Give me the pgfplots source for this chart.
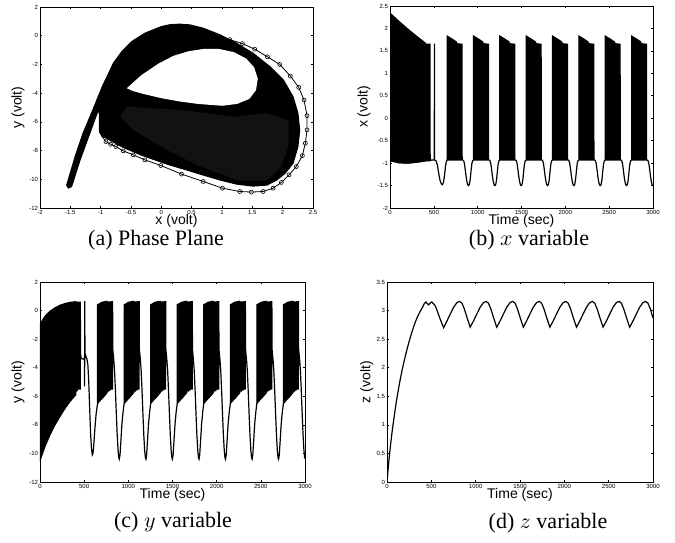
\documentclass[border=0pt]{standalone}
\usepackage{fontspec}
\setmainfont{Liberation Serif}
\newfontfamily\helv{Liberation Sans}
\usepackage{pgfplots}
\pgfplotsset{compat=1.18}

\pgfplotsset{
  mat/.style={
    scale only axis, anchor=south west,
    axis line style={line width=0.4pt},
    tick align=inside, major tick length=1.2pt,
    tick style={line width=0.3pt, black},
    tick label style={font=\fontsize{3}{3.5}\selectfont\helv, inner sep=0.8pt},
    /pgf/number format/assume math mode=true,
    /pgf/number format/1000 sep={},
    scaled ticks=false,
    unbounded coords=jump,
  },
  tser/.style={
    mat, xmin=0, xmax=3000, xtick={0,500,...,3000},
    xlabel={Time (sec)},
  },
  xl/.style={every axis x label/.style={at={(axis description cs:0.5,#1)}, anchor=center,
    inner sep=0pt, font=\fontsize{7}{8}\selectfont\helv}},
  yl/.style={every axis y label/.style={at={(axis description cs:#1,0.5)}, anchor=center,
    rotate=90, font=\fontsize{7}{8}\selectfont\helv}},
  sig/.style={black, mark=none, line width=0.6pt},
}

\begin{document}
\begin{tikzpicture}
\useasboundingbox (0,0) rectangle (337.5pt,271pt);

% (a) phase plane
\begin{axis}[mat, at={(20pt,167pt)}, width=136.5pt, height=100.5pt,
  xmin=-2, xmax=2.5, ymin=-12, ymax=2,
  xtick={-2,-1.5,...,2.5}, ytick={-12,-10,...,2},
  xlabel={x (volt)}, ylabel={y (volt)}, xl=-0.062, yl=-0.081,
]
\addplot[fill=black, draw=black, line width=0.6pt] coordinates {
(-1.56,-10.42) (-1.53,-10.6) (-1.48,-10.5) (-1.34,-8.65) (-1.20,-7.03) (-1.09,-5.75)
(-1.04,-5.2) (-1.02,-5.4) (-1.02,-6.7) (-0.97,-7.0) (-0.9,-7.15) (-0.65,-7.73)
(-0.33,-8.31) (0.0,-8.8) (0.14,-9.0) (0.42,-9.35) (0.69,-9.7) (0.97,-10.05)
(1.24,-10.33) (1.51,-10.47) (1.74,-10.4) (1.9,-10.05) (2.04,-9.58) (2.17,-8.88)
(2.25,-7.73) (2.28,-6.57) (2.25,-5.4) (2.17,-4.25) (2.01,-3.08) (1.79,-2.16)
(1.51,-1.22) (1.24,-0.53) (0.97,0.05) (0.69,0.52) (0.47,0.75) (0.3,0.8)
(0.14,0.76) (0.0,0.63) (-0.27,0.17) (-0.49,-0.42) (-0.65,-1.11) (-0.79,-1.92)
(-0.88,-2.74) (-0.96,-3.43) (-1.04,-4.25) (-1.15,-5.4) (-1.29,-6.8) (-1.42,-8.42)
(-1.56,-10.42)
};
\addplot[fill=black!93, draw=none] coordinates {
(-0.57,-4.94) (0.36,-5.18) (1.18,-5.64) (1.73,-5.4) (2.1,-5.9) (2.1,-7.7)
(1.95,-9.3) (1.73,-10.1) (1.29,-10.1) (0.63,-9.1) (0.09,-7.95) (-0.46,-6.56)
(-0.68,-5.64)
};
\addplot[fill=white, draw=none] coordinates {
(-0.57,-3.66) (-0.33,-2.75) (-0.05,-1.95) (0.2,-1.4) (0.45,-1.08) (0.7,-0.92)
(0.95,-0.92) (1.2,-1.15) (1.4,-1.6) (1.53,-2.2) (1.59,-3.0) (1.56,-3.8)
(1.45,-4.4) (1.25,-4.75) (1.0,-4.88) (0.6,-4.75) (0.3,-4.58) (0.0,-4.35)
(-0.3,-4.05) (-0.47,-3.85)
};
\addplot[black, line width=0.4pt, mark=o, mark size=1pt, mark options={line width=0.3pt},
  mark indices={3,...,31}] coordinates {
(-1.01,-6.45) (-0.99,-6.95)
(-0.913,-7.375) (-0.836,-7.56) (-0.749,-7.72) (-0.628,-8.02) (-0.463,-8.30)
(-0.271,-8.65) (-0.008,-9.04) (0.333,-9.64) (0.689,-10.15) (1.008,-10.62)
(1.293,-10.85) (1.485,-10.89) (1.677,-10.85) (1.842,-10.62) (1.979,-10.22)
(2.105,-9.69) (2.226,-9.11) (2.325,-8.35) (2.374,-7.49) (2.402,-6.56)
(2.402,-5.57) (2.352,-4.48) (2.265,-3.60) (2.127,-2.81) (1.952,-2.00)
(1.749,-1.47) (1.540,-0.94) (1.337,-0.55) (1.128,-0.27)
};
\end{axis}

% (b) x variable
\begin{axis}[tser, at={(195pt,167pt)}, width=131.5pt, height=101pt,
  ymin=-2, ymax=2.5, ytick={-2,-1.5,...,2.5},
  ylabel={x (volt)}, xl=-0.062, yl=-0.099,
]
\addplot[fill=black, draw=black, line width=0.6pt] coordinates {
(0,-0.95) (0,2.34) (100,2.16) (200,1.99) (300,1.83) (405,1.67) (405,-0.95) (300,-0.98) (200,-1.0) (100,-0.99)
(nan,nan)
(652,-0.93) (652,1.83) (702,1.77) (757,1.70) (757,-0.93)
(nan,nan)
(953,-0.93) (953,1.83) (1003,1.77) (1058,1.70) (1058,-0.93)
(nan,nan)
(1253,-0.93) (1253,1.83) (1303,1.77) (1358,1.70) (1358,-0.93)
(nan,nan)
(1554,-0.93) (1554,1.83) (1604,1.77) (1659,1.70) (1659,-0.93)
(nan,nan)
(1854,-0.93) (1854,1.83) (1904,1.77) (1959,1.70) (1959,-0.93)
(nan,nan)
(2155,-0.93) (2155,1.83) (2205,1.77) (2260,1.70) (2260,-0.93)
(nan,nan)
(2455,-0.93) (2455,1.83) (2505,1.77) (2560,1.70) (2560,-0.93)
(nan,nan)
(2756,-0.93) (2756,1.83) (2806,1.77) (2861,1.70) (2861,-0.93)
};
\addplot[sig] coordinates {
(0,-0.95) (100,-0.99) (200,-1.0) (300,-0.98) (405,-0.95)
(411,-0.95) (412,1.66) (413,-0.95) (423,-0.95) (424,1.66) (425,-0.95) (435,-0.95) (436,1.66) (437,-0.95) (445,-0.95) (446,1.66) (447,-0.95) (456,-0.95) (457,1.66) (458,-0.94) (480,-0.93) (505,-0.93) (507,1.66) (509,-0.93)
(525,-0.95) (540,-1.04) (555,-1.22) (570,-1.38) (585,-1.46) (597,-1.48) (610,-1.43) (622,-1.27) (633,-1.07) (643,-0.96) (652,-0.93)
(763,-0.93) (764,1.68) (765,-0.93) (771,-0.93) (772,1.68) (773,-0.93) (779,-0.93) (780,1.67) (781,-0.93) (788,-0.93) (789,1.67) (790,-0.93) (797,-0.93) (798,1.67) (799,-0.93) (807,-0.93) (808,1.66) (809,-0.93) (821,-0.93) (822,1.66) (823,-0.93)
(828,-0.93) (838,-0.94) (848,-1.0) (858,-1.14) (868,-1.3) (878,-1.42) (888,-1.49) (897,-1.5) (906,-1.47) (915,-1.36) (924,-1.18) (933,-1.02) (942,-0.95) (953,-0.93)
(1064,-0.93) (1065,1.68) (1066,-0.93) (1072,-0.93) (1073,1.68) (1074,-0.93) (1080,-0.93) (1081,1.67) (1082,-0.93) (1089,-0.93) (1090,1.67) (1091,-0.93) (1098,-0.93) (1099,1.67) (1100,-0.93) (1108,-0.93) (1109,1.66) (1110,-0.93) (1122,-0.93) (1123,1.66) (1124,-0.93)
(1129,-0.93) (1139,-0.94) (1149,-1.0) (1159,-1.14) (1169,-1.3) (1179,-1.42) (1189,-1.49) (1198,-1.5) (1207,-1.47) (1216,-1.36) (1225,-1.18) (1234,-1.02) (1243,-0.95) (1253,-0.93)
(1364,-0.93) (1365,1.68) (1366,-0.93) (1372,-0.93) (1373,1.68) (1374,-0.93) (1380,-0.93) (1381,1.67) (1382,-0.93) (1389,-0.93) (1390,1.67) (1391,-0.93) (1398,-0.93) (1399,1.67) (1400,-0.93) (1408,-0.93) (1409,1.66) (1410,-0.93) (1422,-0.93) (1423,1.66) (1424,-0.93)
(1429,-0.93) (1439,-0.94) (1449,-1.0) (1459,-1.14) (1469,-1.3) (1479,-1.42) (1489,-1.49) (1498,-1.5) (1507,-1.47) (1516,-1.36) (1525,-1.18) (1534,-1.02) (1543,-0.95) (1554,-0.93)
(1665,-0.93) (1666,1.68) (1667,-0.93) (1673,-0.93) (1674,1.68) (1675,-0.93) (1681,-0.93) (1682,1.67) (1683,-0.93) (1690,-0.93) (1691,1.67) (1692,-0.93) (1699,-0.93) (1700,1.67) (1701,-0.93) (1709,-0.93) (1710,1.66) (1711,-0.93) (1723,-0.93) (1724,1.66) (1725,-0.93)
(1730,-0.93) (1740,-0.94) (1750,-1.0) (1760,-1.14) (1770,-1.3) (1780,-1.42) (1790,-1.49) (1799,-1.5) (1808,-1.47) (1817,-1.36) (1826,-1.18) (1835,-1.02) (1844,-0.95) (1854,-0.93)
(1965,-0.93) (1966,1.68) (1967,-0.93) (1973,-0.93) (1974,1.68) (1975,-0.93) (1981,-0.93) (1982,1.67) (1983,-0.93) (1990,-0.93) (1991,1.67) (1992,-0.93) (1999,-0.93) (2000,1.67) (2001,-0.93) (2009,-0.93) (2010,1.66) (2011,-0.93) (2023,-0.93) (2024,1.66) (2025,-0.93)
(2030,-0.93) (2040,-0.94) (2050,-1.0) (2060,-1.14) (2070,-1.3) (2080,-1.42) (2090,-1.49) (2099,-1.5) (2108,-1.47) (2117,-1.36) (2126,-1.18) (2135,-1.02) (2144,-0.95) (2155,-0.93)
(2266,-0.93) (2267,1.68) (2268,-0.93) (2274,-0.93) (2275,1.68) (2276,-0.93) (2282,-0.93) (2283,1.67) (2284,-0.93) (2291,-0.93) (2292,1.67) (2293,-0.93) (2300,-0.93) (2301,1.67) (2302,-0.93) (2310,-0.93) (2311,1.66) (2312,-0.93) (2324,-0.93) (2325,1.66) (2326,-0.93)
(2331,-0.93) (2341,-0.94) (2351,-1.0) (2361,-1.14) (2371,-1.3) (2381,-1.42) (2391,-1.49) (2400,-1.5) (2409,-1.47) (2418,-1.36) (2427,-1.18) (2436,-1.02) (2445,-0.95) (2455,-0.93)
(2566,-0.93) (2567,1.68) (2568,-0.93) (2574,-0.93) (2575,1.68) (2576,-0.93) (2582,-0.93) (2583,1.67) (2584,-0.93) (2591,-0.93) (2592,1.67) (2593,-0.93) (2600,-0.93) (2601,1.67) (2602,-0.93) (2610,-0.93) (2611,1.66) (2612,-0.93) (2624,-0.93) (2625,1.66) (2626,-0.93)
(2631,-0.93) (2641,-0.94) (2651,-1.0) (2661,-1.14) (2671,-1.3) (2681,-1.42) (2691,-1.49) (2700,-1.5) (2709,-1.47) (2718,-1.36) (2727,-1.18) (2736,-1.02) (2745,-0.95) (2756,-0.93)
(2867,-0.93) (2868,1.68) (2869,-0.93) (2875,-0.93) (2876,1.68) (2877,-0.93) (2883,-0.93) (2884,1.67) (2885,-0.93) (2892,-0.93) (2893,1.67) (2894,-0.93) (2901,-0.93) (2902,1.67) (2903,-0.93) (2911,-0.93) (2912,1.66) (2913,-0.93) (2925,-0.93) (2926,1.66) (2927,-0.93)
(2932,-0.93) (2942,-0.94) (2952,-1.0) (2962,-1.14) (2972,-1.3) (2982,-1.42) (2992,-1.49) (3000,-1.5)
};
\end{axis}

% (c) y variable
\begin{axis}[tser, at={(20pt,30pt)}, width=132.5pt, height=100pt,
  ymin=-12, ymax=2, ytick={-12,-10,...,2},
  ylabel={y (volt)}, xl=-0.062, yl=-0.083,
]
\addplot[fill=black, draw=black, line width=0.6pt] coordinates {
(0,-0.95) (57,-0.4) (113,-0.05) (170,0.19) (226,0.37) (283,0.49) (340,0.57) (405,0.62)
(405,-5.9) (340,-6.35) (283,-6.85) (226,-7.4) (170,-8.0) (113,-8.7) (57,-9.5) (0,-10.5)
(nan,nan)
(652,-6.5) (652,0.4) (702,0.58) (757,0.65) (757,-5.75) (702,-6.15)
(nan,nan)
(953,-6.5) (953,0.4) (1003,0.58) (1058,0.65) (1058,-5.75) (1003,-6.15)
(nan,nan)
(1253,-6.5) (1253,0.4) (1303,0.58) (1358,0.65) (1358,-5.75) (1303,-6.15)
(nan,nan)
(1554,-6.5) (1554,0.4) (1604,0.58) (1659,0.65) (1659,-5.75) (1604,-6.15)
(nan,nan)
(1854,-6.5) (1854,0.4) (1904,0.58) (1959,0.65) (1959,-5.75) (1904,-6.15)
(nan,nan)
(2155,-6.5) (2155,0.4) (2205,0.58) (2260,0.65) (2260,-5.75) (2205,-6.15)
(nan,nan)
(2455,-6.5) (2455,0.4) (2505,0.58) (2560,0.65) (2560,-5.75) (2505,-6.15)
(nan,nan)
(2756,-6.5) (2756,0.4) (2806,0.58) (2861,0.65) (2861,-5.75) (2806,-6.15)
};
\addplot[sig] coordinates {
(405,-5.7) (411,-5.6) (412,0.63) (413,-5.6) (423,-5.6) (424,0.63) (425,-5.5) (435,-5.5) (436,0.63) (437,-5.5) (445,-5.5) (446,0.63) (447,-5.5) (456,-5.5) (457,0.63) (458,-3.0) (465,-3.3) (480,-3.4) (495,-3.4) (503,-3.3) (505,-5.3) (507,0.66) (509,-3.0) (520,-3.2) (532,-3.4) (542,-3.8) (552,-5.0) (562,-6.8) (572,-8.5) (582,-9.6) (592,-10.1) (600,-10.0) (610,-9.3) (622,-8.2) (636,-7.2) (652,-6.5)
(757,-5.75) (763,-5.6) (764,0.64) (765,-5.6) (771,-5.6) (772,0.64) (773,-5.6) (779,-5.6) (780,0.65) (781,-5.6) (788,-5.55) (789,0.65) (790,-5.55) (797,-5.55) (798,0.65) (799,-5.5) (807,-5.5) (808,0.66) (809,-5.5) (821,-5.5) (822,0.66) (824,-2.7) (830,-3.1) (836,-3.5) (844,-4.2) (854,-5.6) (864,-7.2) (874,-8.7) (884,-9.8) (892,-10.3) (898,-10.4) (906,-10.1) (916,-9.1) (928,-7.9) (942,-7.0) (953,-6.5)
(1058,-5.75) (1064,-5.6) (1065,0.64) (1066,-5.6) (1072,-5.6) (1073,0.64) (1074,-5.6) (1080,-5.6) (1081,0.65) (1082,-5.6) (1089,-5.55) (1090,0.65) (1091,-5.55) (1098,-5.55) (1099,0.65) (1100,-5.5) (1108,-5.5) (1109,0.66) (1110,-5.5) (1122,-5.5) (1123,0.66) (1125,-2.7) (1131,-3.1) (1137,-3.5) (1145,-4.2) (1155,-5.6) (1165,-7.2) (1175,-8.7) (1185,-9.8) (1193,-10.3) (1199,-10.4) (1207,-10.1) (1217,-9.1) (1229,-7.9) (1243,-7.0) (1253,-6.5)
(1358,-5.75) (1364,-5.6) (1365,0.64) (1366,-5.6) (1372,-5.6) (1373,0.64) (1374,-5.6) (1380,-5.6) (1381,0.65) (1382,-5.6) (1389,-5.55) (1390,0.65) (1391,-5.55) (1398,-5.55) (1399,0.65) (1400,-5.5) (1408,-5.5) (1409,0.66) (1410,-5.5) (1422,-5.5) (1423,0.66) (1425,-2.7) (1431,-3.1) (1437,-3.5) (1445,-4.2) (1455,-5.6) (1465,-7.2) (1475,-8.7) (1485,-9.8) (1493,-10.3) (1499,-10.4) (1507,-10.1) (1517,-9.1) (1529,-7.9) (1543,-7.0) (1554,-6.5)
(1659,-5.75) (1665,-5.6) (1666,0.64) (1667,-5.6) (1673,-5.6) (1674,0.64) (1675,-5.6) (1681,-5.6) (1682,0.65) (1683,-5.6) (1690,-5.55) (1691,0.65) (1692,-5.55) (1699,-5.55) (1700,0.65) (1701,-5.5) (1709,-5.5) (1710,0.66) (1711,-5.5) (1723,-5.5) (1724,0.66) (1726,-2.7) (1732,-3.1) (1738,-3.5) (1746,-4.2) (1756,-5.6) (1766,-7.2) (1776,-8.7) (1786,-9.8) (1794,-10.3) (1800,-10.4) (1808,-10.1) (1818,-9.1) (1830,-7.9) (1844,-7.0) (1854,-6.5)
(1959,-5.75) (1965,-5.6) (1966,0.64) (1967,-5.6) (1973,-5.6) (1974,0.64) (1975,-5.6) (1981,-5.6) (1982,0.65) (1983,-5.6) (1990,-5.55) (1991,0.65) (1992,-5.55) (1999,-5.55) (2000,0.65) (2001,-5.5) (2009,-5.5) (2010,0.66) (2011,-5.5) (2023,-5.5) (2024,0.66) (2026,-2.7) (2032,-3.1) (2038,-3.5) (2046,-4.2) (2056,-5.6) (2066,-7.2) (2076,-8.7) (2086,-9.8) (2094,-10.3) (2100,-10.4) (2108,-10.1) (2118,-9.1) (2130,-7.9) (2144,-7.0) (2155,-6.5)
(2260,-5.75) (2266,-5.6) (2267,0.64) (2268,-5.6) (2274,-5.6) (2275,0.64) (2276,-5.6) (2282,-5.6) (2283,0.65) (2284,-5.6) (2291,-5.55) (2292,0.65) (2293,-5.55) (2300,-5.55) (2301,0.65) (2302,-5.5) (2310,-5.5) (2311,0.66) (2312,-5.5) (2324,-5.5) (2325,0.66) (2327,-2.7) (2333,-3.1) (2339,-3.5) (2347,-4.2) (2357,-5.6) (2367,-7.2) (2377,-8.7) (2387,-9.8) (2395,-10.3) (2401,-10.4) (2409,-10.1) (2419,-9.1) (2431,-7.9) (2445,-7.0) (2455,-6.5)
(2560,-5.75) (2566,-5.6) (2567,0.64) (2568,-5.6) (2574,-5.6) (2575,0.64) (2576,-5.6) (2582,-5.6) (2583,0.65) (2584,-5.6) (2591,-5.55) (2592,0.65) (2593,-5.55) (2600,-5.55) (2601,0.65) (2602,-5.5) (2610,-5.5) (2611,0.66) (2612,-5.5) (2624,-5.5) (2625,0.66) (2627,-2.7) (2633,-3.1) (2639,-3.5) (2647,-4.2) (2657,-5.6) (2667,-7.2) (2677,-8.7) (2687,-9.8) (2695,-10.3) (2701,-10.4) (2709,-10.1) (2719,-9.1) (2731,-7.9) (2745,-7.0) (2756,-6.5)
(2861,-5.75) (2867,-5.6) (2868,0.64) (2869,-5.6) (2875,-5.6) (2876,0.64) (2877,-5.6) (2883,-5.6) (2884,0.65) (2885,-5.6) (2892,-5.55) (2893,0.65) (2894,-5.55) (2901,-5.55) (2902,0.65) (2903,-5.5) (2911,-5.5) (2912,0.66) (2913,-5.5) (2925,-5.5) (2926,0.66) (2928,-2.7) (2934,-3.1) (2940,-3.5) (2948,-4.2) (2958,-5.6) (2968,-7.2) (2978,-8.7) (2988,-9.8) (2996,-10.3) (3000,-10.35)
};
\end{axis}

% (d) z variable
\begin{axis}[tser, at={(193.5pt,30pt)}, width=133pt, height=100pt,
  ymin=0, ymax=3.5, ytick={0,0.5,...,3.5},
  ylabel={z (volt)}, xl=-0.062, yl=-0.076,
]
\addplot[sig] coordinates {
(0,0) (10,0.18) (25,0.43) (40,0.65) (56,0.86) (75,1.08) (95,1.3) (113,1.48) (140,1.72) (169,1.95)
(200,2.16) (225,2.32) (255,2.49) (282,2.63) (310,2.76) (338,2.87) (365,2.96) (394,3.04) (420,3.12)
(440,3.15) (455,3.12) (470,3.10) (485,3.13) (505,3.15) (525,3.12) (545,3.08) (570,2.98) (595,2.87) (615,2.79) (639,2.70)
(677,2.82) (714,2.94) (752,3.06) (789,3.14) (819,3.16) (845,3.13) (872,3.03) (902,2.88) (932,2.74) (938,2.71)
(976,2.82) (1013,2.94) (1051,3.06) (1088,3.14) (1118,3.16) (1144,3.13) (1171,3.03) (1201,2.88) (1231,2.74) (1238,2.71)
(1276,2.82) (1313,2.94) (1351,3.06) (1388,3.14) (1418,3.16) (1444,3.13) (1471,3.03) (1501,2.88) (1531,2.74) (1537,2.71)
(1575,2.82) (1612,2.94) (1650,3.06) (1687,3.14) (1717,3.16) (1743,3.13) (1770,3.03) (1800,2.88) (1830,2.74) (1837,2.71)
(1875,2.82) (1912,2.94) (1950,3.06) (1987,3.14) (2017,3.16) (2043,3.13) (2070,3.03) (2100,2.88) (2130,2.74) (2137,2.71)
(2175,2.82) (2212,2.94) (2250,3.06) (2287,3.14) (2317,3.16) (2343,3.13) (2370,3.03) (2400,2.88) (2430,2.74) (2437,2.71)
(2475,2.82) (2512,2.94) (2550,3.06) (2587,3.14) (2617,3.16) (2643,3.13) (2670,3.03) (2700,2.88) (2730,2.74) (2737,2.71)
(2775,2.82) (2812,2.94) (2850,3.06) (2887,3.14) (2917,3.16) (2943,3.13) (2970,3.03) (3000,2.87)
};
\end{axis}

\node[font=\fontsize{11}{13}\selectfont] at (78pt,151pt) {(a) Phase Plane};
\node[font=\fontsize{11}{13}\selectfont] at (264.5pt,151pt) {(b) $x$ variable};
\node[font=\fontsize{11}{13}\selectfont] at (86.5pt,10pt) {(c) $y$ variable};
\node[font=\fontsize{11}{13}\selectfont] at (274pt,9.5pt) {(d) $z$ variable};
\end{tikzpicture}
\end{document}
